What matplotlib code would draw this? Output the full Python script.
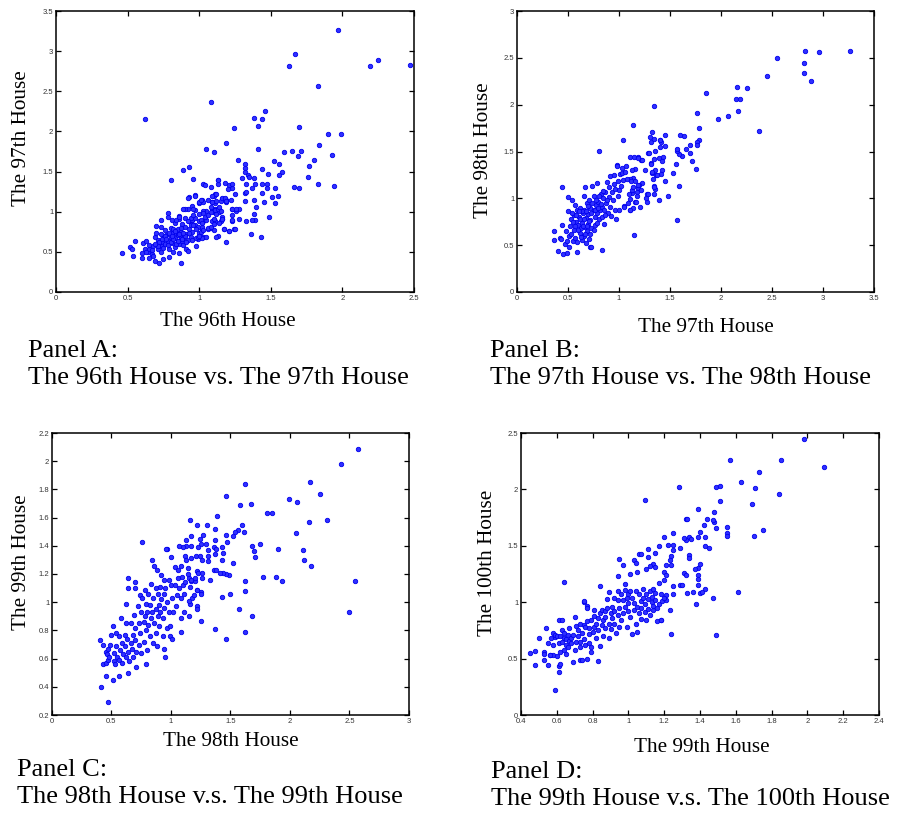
import numpy as np
import matplotlib
matplotlib.use("Agg")
import matplotlib.pyplot as plt

# --- valeurs (x, y) ---
a_points = [
    (0.46,0.49),(0.62,2.16),(1.08,2.37),(1.97,3.26),(1.67,2.96),(1.63,2.81),(2.19,2.81),(2.25,2.89),(2.47,2.83),
    (1.83,2.57),(1.46,2.25),(1.38,2.17),(1.44,2.16),(1.41,2.07),(1.24,2.04),(1.70,2.05),(1.90,1.97),(1.99,1.97),
    (1.84,1.83),(1.05,1.78),(1.10,1.75),(1.19,1.85),(1.41,1.78),(1.59,1.75),(1.65,1.76),(1.71,1.76),(1.69,1.70),
    (1.93,1.71),(1.80,1.65),(1.77,1.57),(1.76,1.43),(1.83,1.34),(1.94,1.32),(1.66,1.31),(1.70,1.30),(1.52,1.63),
    (1.56,1.60),(1.58,1.49),(1.56,1.46),(1.48,1.47),(1.44,1.53),(1.27,1.64),(1.32,1.59),(1.32,1.55),(1.32,1.49),
    (1.34,1.46),(1.30,1.42),(1.38,1.42),(1.35,1.43),(1.33,1.34),(1.39,1.34),(1.37,1.29),(1.44,1.35),(1.47,1.34),
    (1.47,1.30),(1.53,1.29),(1.55,1.19),(1.51,1.18),(1.53,1.11),(1.45,1.12),(1.44,1.23),(1.38,1.14),(1.40,1.06),
    (1.32,1.13),(1.32,1.23),(1.33,1.24),(1.38,0.97),(1.39,0.90),(1.37,0.90),(1.33,0.88),(1.49,0.94),(1.36,0.72),
    (1.43,0.69),(1.28,1.04),(1.26,1.01),(1.23,1.03),(1.23,0.96),(1.23,0.89),(1.28,0.91),(1.24,0.78),(1.21,0.76),
    (1.19,0.62),(1.25,1.22),(1.23,1.29),(1.21,1.33),(1.23,1.34),(1.20,1.28),(1.18,1.36),(1.19,1.15),(1.18,1.15),
    (1.16,1.16),(1.22,1.15),(1.19,1.12),(1.13,1.40),(1.13,1.34),(1.08,1.31),(1.03,1.34),(0.97,1.21),(0.93,1.18),
    (0.95,1.07),(1.00,1.11),(1.02,1.14),(1.03,1.12),(1.09,1.12),(1.11,1.11),(1.12,1.13),(1.15,1.13),(1.10,1.19),
    (1.11,1.22),(1.09,1.20),(1.11,1.04),(1.12,1.02),(1.14,1.03),(1.14,1.00),(1.10,1.00),(1.05,1.01),(1.03,1.01),
    (0.97,1.02),(0.92,1.03),(0.90,1.04),(0.86,0.95),(0.86,0.91),(0.90,0.92),(0.93,0.89),(0.95,0.90),(1.00,0.88),
    (1.03,0.88),(1.09,0.89),(1.11,0.89),(1.16,0.91),(1.15,0.88),(1.16,0.94),(1.08,0.80),(1.10,0.77),(1.13,0.70),
    (1.17,0.78),(1.06,0.79),(1.02,0.78),(1.03,0.68),(0.99,0.66),(1.00,0.73),(0.78,0.99),(0.80,1.39),(0.89,1.52),
    (0.93,1.56),(0.96,1.41),(0.89,1.03),
    (0.52,0.56),(0.53,0.53),(0.54,0.45),(0.55,0.64),(0.60,0.49),(0.60,0.42),(0.61,0.61),(0.62,0.54),(0.63,0.64),
    (0.64,0.50),(0.65,0.42),(0.65,0.53),(0.67,0.47),(0.68,0.45),(0.68,0.57),(0.69,0.38),(0.69,0.68),(0.70,0.82),
    (0.70,0.73),(0.71,0.65),(0.71,0.54),(0.72,0.36),(0.73,0.90),(0.73,0.81),(0.73,0.72),(0.74,0.62),(0.74,0.57),
    (0.75,0.41),(0.75,0.67),(0.76,0.77),(0.76,0.60),(0.77,0.71),(0.78,0.93),(0.78,0.64),(0.79,0.43),(0.79,0.54),
    (0.80,0.80),(0.80,0.68),(0.81,0.90),(0.81,0.73),(0.81,0.61),(0.82,0.78),(0.82,0.50),(0.83,0.86),(0.83,0.67),
    (0.83,0.56),(0.84,0.74),(0.84,0.90),(0.85,0.64),(0.85,0.71),(0.85,0.79),(0.86,0.60),(0.86,0.94),(0.86,0.49),
    (0.87,0.36),(0.87,0.68),(0.87,0.75),(0.88,0.63),(0.88,0.71),(0.88,0.85),(0.89,0.59),(0.89,0.67),(0.90,0.81),
    (0.91,0.72),(0.91,0.53),(0.92,0.65),(0.92,0.51),(0.92,1.17),(0.93,0.78),(0.94,0.68),(0.94,0.83),(0.95,0.90),
    (0.95,0.65),(0.95,0.75),(0.96,1.03),(0.97,0.83),(0.97,1.20),(0.97,0.92),(0.98,0.67),(0.98,0.57),(0.99,0.81),
    (0.99,0.68),(1.00,0.97),(1.00,1.12),(1.01,0.90),(1.01,0.75),(1.01,1.15),(1.02,0.81),(1.02,0.67),(1.03,0.98),
    (1.03,0.77),(1.04,1.33),(1.05,0.90),(1.05,0.69),(1.06,0.80),(1.08,0.81),(1.09,1.12),(1.09,1.03),(1.10,0.91),
    (1.10,0.85),(1.11,1.02),(1.12,1.22),(1.12,0.69),(1.13,1.03),(1.13,1.39),(1.14,0.86),(1.15,1.01),(1.16,0.91),
    (1.16,1.17),(1.17,0.79),(1.18,1.17),(1.19,1.13),(1.21,0.76),(1.23,1.03),(1.23,0.90),(1.25,0.78),(1.26,1.03),
    (0.72,0.62),(0.74,0.66),(0.76,0.70),(0.78,0.58),(0.80,0.62),(0.82,0.66),(0.84,0.60),(0.86,0.72),(0.88,0.66),
    (0.90,0.70),(0.79,0.74),(0.81,0.70),(0.83,0.76),(0.85,0.64),(0.87,0.80),(0.89,0.74),(0.91,0.62),(0.93,0.74),
    (0.77,0.66),(0.75,0.55),(0.73,0.50),(0.71,0.57),(0.69,0.60),(0.67,0.52),(0.65,0.58),(0.63,0.50),(0.96,0.84),
    (0.98,0.78),(1.00,0.70),(1.02,0.86),(1.04,0.93),(1.06,0.96),(1.08,1.00),(1.12,0.97),(1.14,1.06),(1.06,1.15),
    (1.08,1.06),(0.94,0.92),(0.92,0.88),(0.96,0.96),
]

b_points = [
    (3.26,2.57),(2.96,2.56),(2.82,2.57),(2.81,2.44),(2.81,2.34),(2.88,2.25),(2.55,2.50),(2.45,2.31),(2.37,1.72),
    (2.16,2.19),(2.25,2.18),(2.15,2.06),(2.19,2.06),(2.17,1.93),(2.07,1.88),(1.97,1.85),(1.85,2.12),(1.76,1.91),
    (1.78,1.75),(1.78,1.62),(1.76,1.60),(1.76,1.57),(1.75,1.31),(1.72,1.40),(1.70,1.57),(1.66,1.53),(1.70,1.48),
    (1.62,1.45),(1.64,1.67),(1.60,1.68),(1.59,1.47),(1.57,1.51),(1.57,1.53),(1.56,1.37),(1.53,1.27),(1.59,1.13),
    (1.57,0.77),(1.48,1.03),(1.45,1.68),(1.45,1.56),(1.45,1.18),(1.34,1.99),(1.14,1.78),(1.32,1.71),(1.30,1.65),
    (1.31,1.60),(1.34,1.63),(1.40,1.62),(1.41,1.60),(1.40,1.55),(1.39,1.43),(1.43,1.44),(1.42,1.40),(1.42,1.30),
    (1.41,1.26),(1.35,1.30),(1.32,1.27),(1.31,1.38),(1.28,1.48),(1.34,1.42),(1.36,1.25),(1.34,1.13),(1.35,1.10),
    (1.34,1.05),(1.27,1.05),(1.27,0.96),(1.23,1.16),(1.22,1.41),(1.19,1.44),(1.11,1.44),(1.15,1.44),(1.16,1.31),
    (1.14,1.22),(1.11,1.21),(1.20,1.14),(1.19,1.11),(1.18,1.07),(1.19,1.14),(1.13,1.06),(1.11,0.99),(1.16,0.96),
    (1.18,1.02),(1.11,0.88),(1.14,0.90),(1.04,1.62),(0.98,1.36),(1.05,0.92),(1.15,0.61),(0.83,0.45),(0.80,1.51),
    (0.44,1.12),(0.36,0.65),(0.36,0.56),(0.40,0.44),(0.45,0.41),(0.49,0.42),(0.59,0.43),(0.72,0.48),(0.67,1.12),
    (0.42,0.58),(0.43,0.57),(0.44,0.72),(0.47,0.51),(0.48,0.65),(0.49,0.54),(0.50,0.87),(0.50,1.01),(0.51,0.60),
    (0.51,0.48),(0.52,0.70),(0.53,0.78),(0.54,0.98),(0.55,0.54),(0.56,0.82),(0.56,0.66),(0.57,0.93),(0.57,0.58),
    (0.58,0.75),(0.59,0.88),(0.59,0.53),(0.60,0.72),(0.61,0.80),(0.62,0.63),(0.62,0.90),(0.63,0.68),(0.64,0.56),
    (0.64,0.74),(0.65,0.84),(0.66,0.60),(0.66,1.02),(0.66,0.88),(0.67,0.69),(0.68,0.79),(0.68,0.52),(0.69,0.95),
    (0.69,0.65),(0.70,0.73),(0.70,0.83),(0.71,0.57),(0.71,0.98),(0.72,0.90),(0.72,0.77),(0.73,0.68),(0.73,0.48),
    (0.74,1.13),(0.75,0.88),(0.75,1.02),(0.76,0.80),(0.76,0.72),(0.77,0.93),(0.78,1.16),(0.78,0.84),(0.79,0.96),
    (0.80,0.78),(0.81,0.88),(0.82,1.05),(0.83,0.80),(0.83,0.91),(0.84,1.00),(0.85,0.73),(0.85,0.88),(0.86,1.07),
    (0.87,0.95),(0.88,1.17),(0.89,0.84),(0.90,1.01),(0.90,1.12),(0.91,0.91),(0.91,1.24),(0.92,0.81),(0.93,1.07),
    (0.94,0.98),(0.95,1.25),(0.95,1.15),(0.96,0.88),(0.96,1.10),(0.97,0.78),(0.98,1.35),(0.99,1.19),(0.99,1.02),
    (1.00,1.09),(1.00,0.88),(1.01,1.26),(1.02,1.13),(1.03,1.27),(1.03,1.32),(1.04,1.20),(1.05,0.91),(1.06,1.28),
    (1.07,1.35),(1.08,1.21),(1.09,0.95),(1.10,1.05),(1.11,0.88),(1.12,1.19),(1.13,1.09),(1.13,1.30),(1.14,1.12),
    (1.16,1.18),(1.17,0.96),(1.19,1.43),(1.21,0.91),(1.22,1.09),(1.23,1.41),(1.25,1.30),(1.26,1.00),(1.28,1.05),
    (1.29,1.48),(1.31,1.37),(1.32,1.28),(1.33,1.21),(1.34,1.12),(1.35,1.51),(1.37,1.25),(1.39,0.98),(1.40,1.62),
    (0.55,0.75),(0.58,0.82),(0.60,0.66),(0.62,0.78),(0.64,0.86),(0.65,0.70),(0.67,0.62),(0.68,0.86),(0.70,0.92),
    (0.71,0.76),(0.73,0.84),(0.74,0.95),(0.76,0.88),(0.77,0.98),(0.79,0.90),(0.80,1.02),(0.82,0.94),(0.84,1.08),
    (0.86,0.82),(0.88,0.98),(0.66,0.78),(0.69,0.70),(0.72,0.62),(0.63,0.59),(0.61,0.86),(0.57,0.70),(0.53,0.62),
    (0.54,0.84),(0.75,0.66),(0.78,0.74),
]

c_points = [
    (2.57,2.09),(2.43,1.98),(2.17,1.85),(2.25,1.77),(2.31,1.58),(2.16,1.57),(2.05,1.49),(2.06,1.71),(1.99,1.73),
    (1.85,1.63),(1.81,1.63),(1.62,1.84),(1.46,1.75),(1.58,1.69),(1.67,1.70),(1.39,1.61),(1.30,1.55),(1.22,1.55),
    (1.16,1.58),(1.60,1.55),(1.56,1.51),(1.54,1.50),(1.61,1.50),(1.52,1.47),(1.68,1.40),(1.75,1.41),(1.70,1.36),
    (1.71,1.32),(1.90,1.38),(2.11,1.37),(2.12,1.30),(2.18,1.26),(1.88,1.18),(1.93,1.15),(1.77,1.18),(2.55,1.15),
    (2.50,0.93),(1.62,1.15),(1.62,1.08),(1.50,1.06),(1.43,1.04),(1.57,0.95),(1.68,0.90),(1.62,0.79),(1.46,0.74),
    (1.37,0.81),(1.25,0.87),(1.52,1.28),(1.49,1.19),(1.46,1.20),(1.44,1.21),(1.43,1.30),(1.44,1.35),(1.43,1.39),
    (1.47,1.43),(1.46,1.48),(1.37,1.52),(1.37,1.44),(1.36,1.39),(1.38,1.38),(1.37,1.34),(1.36,1.23),(1.33,1.16),
    (1.41,1.21),(1.38,1.23),(1.31,1.33),(1.31,1.37),(1.31,1.29),(1.27,1.48),(1.24,1.45),(1.25,1.41),(1.23,1.39),
    (1.29,1.41),(1.24,1.33),(1.26,1.30),(1.21,1.33),(1.17,1.31),(1.17,1.40),(1.13,1.40),(1.10,1.39),(1.07,1.40),
    (1.12,1.33),(1.17,1.47),(1.13,1.44),(0.97,1.38),(0.76,1.43),(1.08,1.26),(1.14,1.24),(1.22,1.22),(1.26,1.21),
    (1.26,1.17),(1.20,1.15),(1.17,1.15),(1.15,1.17),(1.22,1.09),(1.25,1.07),(1.18,1.03),(1.16,0.99),(1.22,0.97),
    (1.22,0.95),(1.15,0.90),(1.08,0.89),(1.08,0.79),(0.99,0.76),(1.01,0.74),(0.95,0.61),(0.94,0.67),(0.79,0.56),
    (0.71,0.54),(0.64,0.50),(0.56,0.48),(0.51,0.45),(0.45,0.48),(0.41,0.40),(0.47,0.29),(0.40,0.73),(0.43,0.70),
    (0.43,0.56),(0.51,0.83),(0.62,0.99),(0.58,0.89),
    (0.45,0.65),(0.45,0.57),(0.46,0.63),(0.47,0.59),(0.47,0.67),(0.48,0.61),(0.49,0.70),(0.50,0.77),(0.52,0.64),
    (0.52,0.58),(0.53,0.56),(0.54,0.69),(0.54,0.78),(0.55,0.61),(0.56,0.76),(0.56,0.59),(0.57,0.66),(0.59,0.71),
    (0.59,0.57),(0.60,0.63),(0.61,0.77),(0.61,0.69),(0.62,0.85),(0.62,0.61),(0.63,0.74),(0.64,0.65),(0.64,1.17),
    (0.64,1.10),(0.65,0.58),(0.66,0.71),(0.66,0.85),(0.67,0.67),(0.68,0.77),(0.68,0.61),(0.69,0.91),(0.70,1.14),
    (0.70,1.10),(0.70,0.73),(0.70,0.82),(0.71,0.65),(0.72,0.97),(0.73,0.70),(0.73,0.85),(0.74,1.05),(0.74,0.78),
    (0.75,0.93),(0.75,0.64),(0.76,1.03),(0.77,0.86),(0.77,0.72),(0.78,1.09),(0.78,0.90),(0.79,0.99),(0.79,0.80),
    (0.80,0.66),(0.80,0.93),(0.81,1.06),(0.81,0.84),(0.82,0.98),(0.82,0.76),(0.83,0.89),(0.83,1.13),(0.84,1.30),
    (0.84,0.93),(0.85,0.71),(0.85,1.03),(0.86,0.85),(0.86,1.26),(0.87,1.10),(0.87,0.95),(0.87,0.78),(0.88,0.69),
    (0.88,1.23),(0.89,1.06),(0.89,0.90),(0.90,0.98),(0.90,0.83),(0.91,1.11),(0.91,0.93),(0.92,1.02),(0.92,1.19),
    (0.93,0.89),(0.93,0.76),(0.94,1.16),(0.94,1.06),(0.94,0.96),(0.95,1.10),(0.96,1.38),(0.97,0.82),(0.97,1.00),
    (0.98,1.16),(0.98,0.93),(0.99,0.83),(1.00,1.12),(1.00,1.32),(1.01,1.03),(1.02,0.93),(1.03,1.25),(1.03,1.12),
    (1.04,0.97),(1.05,1.05),(1.06,1.23),(1.06,1.17),(1.07,1.10),(1.08,1.03),(1.09,1.18),(1.10,1.12),(1.11,0.93),
    (1.11,1.06),(1.12,1.14),(1.13,1.30),(1.14,1.20),(1.15,1.01),(1.16,1.11),(1.17,1.16),(1.19,1.05),(1.20,1.17),
    (1.22,1.09),(1.23,1.21),(1.25,1.06),
]

d_points = [
    (1.98,2.45),(2.09,2.20),(1.85,2.26),(1.73,2.15),(1.71,2.01),(1.84,1.96),(1.57,2.26),(1.63,2.07),(1.69,1.87),
    (1.75,1.64),(1.70,1.59),(1.61,1.09),(1.55,1.67),(1.55,1.61),(1.55,1.59),(1.49,2.02),(1.51,2.03),(1.51,1.90),
    (1.48,1.80),(1.48,1.71),(1.49,1.66),(1.47,1.73),(1.39,1.83),(1.28,2.02),(1.09,1.91),(1.44,1.74),(1.42,1.68),
    (1.43,1.58),(1.40,1.62),(1.39,1.58),(1.43,1.50),(1.45,1.48),(1.32,1.74),(1.33,1.74),(1.34,1.58),(1.35,1.56),
    (1.32,1.55),(1.29,1.48),(1.31,1.57),(1.25,1.61),(1.20,1.58),(1.22,1.51),(1.25,1.46),(1.25,1.51),(1.17,1.50),
    (1.24,1.41),(1.23,1.37),(1.24,1.33),(1.21,1.33),(1.20,1.27),(1.11,1.47),(1.15,1.44),(1.14,1.34),(1.15,1.31),
    (1.12,1.32),(1.11,1.40),(1.10,1.29),(1.06,1.43),(1.07,1.43),(1.03,1.37),(1.04,1.35),(1.05,1.27),(1.01,1.25),
    (0.97,1.33),(0.95,1.38),(0.94,1.23),(0.98,1.16),(1.34,1.42),(1.34,1.39),(1.39,1.30),(1.40,1.34),(1.37,1.29),
    (1.39,1.24),(1.39,1.21),(1.31,1.26),(1.32,1.24),(1.29,1.15),(1.30,1.15),(1.25,1.14),(1.33,1.08),(1.36,1.09),
    (1.39,1.15),(1.40,1.08),(1.43,1.12),(1.41,1.09),(1.38,0.98),(1.47,1.04),(1.49,0.71),(1.24,0.72),(1.25,1.07),
    (1.23,0.93),(1.18,0.84),(1.16,0.83),(1.21,1.02),(1.21,1.06),(0.64,1.18),(0.84,1.14),(0.59,0.22),(0.45,0.55),
    (0.48,0.44),(0.48,0.57),(0.50,0.68),(0.54,0.77),(0.55,0.44),(0.53,0.56),(0.53,0.49),(0.56,0.53),(0.58,0.53),
    (0.61,0.43),(0.61,0.38),(0.62,0.45),(0.69,0.47),(0.73,0.49),(0.77,0.50),(0.79,0.56),(0.83,0.48),(0.75,1.00),
    (0.77,0.97),(0.77,0.95),
    (0.53,0.54),(0.55,0.64),(0.56,0.53),(0.57,0.68),(0.58,0.62),(0.58,0.73),(0.59,0.69),(0.59,0.71),(0.60,0.52),
    (0.60,0.70),(0.61,0.64),(0.61,0.84),(0.62,0.70),(0.62,0.56),(0.63,0.65),(0.63,0.75),(0.63,0.84),(0.64,0.68),
    (0.64,0.58),(0.64,0.73),(0.65,0.62),(0.65,0.54),(0.65,0.67),(0.66,0.60),(0.66,0.71),(0.67,0.66),(0.67,0.77),
    (0.68,0.64),(0.68,0.68),(0.69,0.71),(0.70,0.58),(0.70,0.87),(0.71,0.79),(0.71,0.65),(0.72,0.70),(0.72,0.75),
    (0.73,0.60),(0.73,0.81),(0.73,0.65),(0.74,0.49),(0.74,0.73),(0.75,1.01),(0.75,0.80),(0.75,0.67),(0.76,0.78),
    (0.76,0.62),(0.77,0.83),(0.78,0.72),(0.78,0.77),(0.78,0.64),(0.79,0.60),(0.79,0.84),(0.80,0.74),(0.81,0.88),
    (0.81,0.78),(0.81,0.93),(0.82,0.81),(0.82,0.68),(0.83,0.86),(0.83,0.75),(0.84,0.61),(0.84,0.90),(0.85,0.80),
    (0.85,0.93),(0.86,0.70),(0.86,0.84),(0.87,0.92),(0.87,0.77),(0.87,0.87),(0.88,0.95),(0.88,1.03),(0.89,0.81),
    (0.89,0.68),(0.89,1.09),(0.90,0.90),(0.90,0.76),(0.91,0.86),(0.91,0.96),(0.92,1.04),(0.92,0.81),(0.92,0.92),
    (0.93,0.73),(0.94,1.10),(0.94,0.89),(0.94,1.02),(0.95,0.78),(0.95,0.95),(0.96,1.07),(0.96,0.84),(0.97,0.90),
    (0.97,1.02),(0.98,1.11),(0.98,0.96),(0.99,0.78),(0.99,1.04),(1.00,0.92),(1.00,0.99),(1.00,1.07),(1.01,1.10),
    (1.01,0.87),(1.02,0.72),(1.02,1.04),(1.03,0.93),(1.03,0.99),(1.04,1.10),(1.04,0.81),(1.05,0.74),(1.05,0.96),
    (1.06,0.90),(1.06,1.07),(1.07,1.01),(1.07,0.85),(1.07,0.95),(1.08,1.12),(1.08,1.04),(1.09,0.91),(1.09,0.98),
    (1.10,1.07),(1.10,0.84),(1.11,1.03),(1.11,0.94),(1.12,1.10),(1.12,0.89),(1.13,1.00),(1.13,1.05),(1.14,0.93),
    (1.14,1.12),(1.14,0.97),(1.15,1.02),(1.15,1.08),(1.16,0.95),(1.17,1.17),(1.17,0.98),(1.18,0.84),(1.18,1.07),
    (1.19,1.01),(1.20,1.20),(1.20,1.04),(1.21,1.24),
]

a_xticks = [0, 0.5, 1, 1.5, 2, 2.5]
a_yticks = [0, 0.5, 1, 1.5, 2, 2.5, 3, 3.5]
b_xticks = [0, 0.5, 1, 1.5, 2, 2.5, 3, 3.5]
b_yticks = [0, 0.5, 1, 1.5, 2, 2.5, 3]
c_xticks = [0, 0.5, 1, 1.5, 2, 2.5, 3]
c_yticks = [0.2, 0.4, 0.6, 0.8, 1, 1.2, 1.4, 1.6, 1.8, 2, 2.2]
d_xticks = [0.4, 0.6, 0.8, 1, 1.2, 1.4, 1.6, 1.8, 2, 2.2, 2.4]
d_yticks = [0, 0.5, 1, 1.5, 2, 2.5]

W, H = 899, 814
fig = plt.figure(figsize=(W / 100, H / 100), dpi=100)

def px(x, y):
    # pixels de l'image -> fraction de la figure
    return x / W, 1 - y / H

def panneau(rect, pts, xt, yt, xlab, ylab, lab_x, lab_y, titre, t_x, t_y):
    l, t, r, b = rect
    ax = fig.add_axes([l / W, 1 - b / H, (r - l) / W, (b - t) / H])
    pts = np.array(pts)
    ax.plot(pts[:, 0], pts[:, 1], 'o', ms=3.2, mfc='#2f2fff', mec='#0000ee', mew=0.6)
    ax.set_xlim(xt[0], xt[-1])
    ax.set_ylim(yt[0], yt[-1])
    ax.set_xticks(xt)
    ax.set_yticks(yt)
    ax.xaxis.set_major_formatter(plt.FuncFormatter(lambda v, p: '%g' % round(v, 2)))
    ax.yaxis.set_major_formatter(plt.FuncFormatter(lambda v, p: '%g' % round(v, 2)))
    ax.tick_params(direction='in', top=True, right=True, length=3.5, width=0.9,
                   labelsize=5.5, pad=2, colors='black', labelcolor='#333333')
    for s in ax.spines.values():
        s.set_linewidth(1.1)
    serif = dict(family='Liberation Serif', color='black')
    fig.text(*px(*lab_x), xlab, ha='center', va='center', fontsize=15.3, **serif)
    fig.text(*px(*lab_y), ylab, ha='center', va='center', rotation=90, fontsize=15.3, **serif)
    fig.text(*px(t_x, t_y), titre, ha='left', va='top', fontsize=19, linespacing=1.32, **serif)
    return ax

plt.rcParams['font.family'] = ['Liberation Sans', 'DejaVu Sans']

panneau((56, 11, 414, 292), a_points, a_xticks, a_yticks, "The 96th House", "The 97th House",
        (228, 322), (22, 138), "Panel A:\nThe 96th House vs. The 97th House", 28, 340)
panneau((517, 11, 874, 292), b_points, b_xticks, b_yticks, "The 97th House", "The 98th House",
        (706, 328), (483, 150), "Panel B:\nThe 97th House vs. The 98th House", 490, 340)
panneau((52, 433, 409, 715), c_points, c_xticks, c_yticks, "The 98th House", "The 99th House",
        (231, 742), (22, 562), "Panel C:\nThe 98th House v.s. The 99th House", 17, 759)
panneau((521, 433, 879, 715), d_points, d_xticks, d_yticks, "The 99th House", "The 100th House",
        (702, 748), (487, 563), "Panel D:\nThe 99th House v.s. The 100th House", 491, 761)

fig.savefig("out.png", dpi=100)
